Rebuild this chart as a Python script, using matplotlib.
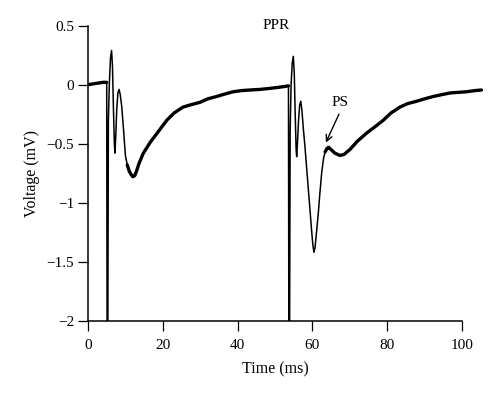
import numpy as np
import matplotlib
matplotlib.use("Agg")
import matplotlib.pyplot as plt

# ---- data ----
time_ms = [0, 2, 4, 5.0, 5.1, 5.3, 5.45, 5.7, 6.0, 6.3, 6.55, 6.8, 7.05, 7.2, 7.4, 7.7,
           8.0, 8.3, 8.6, 9.0, 9.5, 10.0, 10.5, 11.0, 11.5, 12.0, 12.5, 13.0, 13.5, 14.0,
           14.8, 16.6, 18.5, 21.1, 23.0, 25.4, 27.5, 29.9, 32, 34.4, 36.5, 38.8, 41, 43.3,
           46, 49, 51.5, 53.6,
           53.7, 53.9, 54.05, 54.3, 54.6, 54.9, 55.15, 55.4, 55.65, 55.8, 56.0, 56.3, 56.6,
           56.9, 57.2, 57.6, 58.0, 58.5, 58.9, 59.4, 59.8, 60.1, 60.4, 60.7, 61.1, 61.6,
           62.0, 62.5, 63.0, 63.4, 63.9, 64.3, 65.0, 66.0, 67.4, 68.5, 70.0, 72.0, 74.5,
           77.0, 79.0, 81.0, 83.4, 85.5, 87.9, 90.0, 92.3, 94.5, 96.8, 99.0, 101.2, 103.5, 105.2]
voltage_mv = [0.0, 0.01, 0.02, 0.02, -2.1, -2.1, -0.3, 0.0, 0.22, 0.29, 0.15, -0.2, -0.5, -0.58,
              -0.45, -0.2, -0.07, -0.04, -0.08, -0.18, -0.38, -0.60, -0.68, -0.73, -0.76, -0.78,
              -0.77, -0.73, -0.68, -0.64, -0.58, -0.49, -0.41, -0.30, -0.24, -0.19, -0.17, -0.15,
              -0.12, -0.10, -0.08, -0.06, -0.05, -0.045, -0.04, -0.03, -0.02, -0.01,
              -2.1, -2.1, -0.4, 0.0, 0.18, 0.24, 0.1, -0.25, -0.55, -0.61, -0.5, -0.3, -0.17,
              -0.14, -0.22, -0.38, -0.52, -0.72, -0.88, -1.08, -1.24, -1.35, -1.42, -1.38, -1.25,
              -1.08, -0.92, -0.74, -0.62, -0.57, -0.54, -0.53, -0.55, -0.58, -0.60, -0.59, -0.55,
              -0.48, -0.41, -0.35, -0.30, -0.24, -0.19, -0.16, -0.14, -0.12, -0.10, -0.085,
              -0.07, -0.065, -0.06, -0.05, -0.045]
noisy_ranges = [(0, 5.0), (10.5, 53.6), (63.4, 106)]
x_ticks = [0, 20, 40, 60, 80, 100]
y_ticks = [0.5, 0, -0.5, -1, -1.5, -2]

t = np.array(time_ms)
v = np.array(voltage_mv)

plt.rcParams['font.family'] = ['Liberation Serif', 'DejaVu Serif']
plt.rcParams['font.size'] = 11

fig = plt.figure(figsize=(5.0, 3.95), dpi=100)
ax = fig.add_axes([0.176, 0.188, 106 * 3.74 / 500, 0.747])

ax.plot(t, v, color='black', lw=1.1, solid_joinstyle='round')
mask = np.zeros_like(t, dtype=bool)
for a, b in noisy_ranges:
    mask |= (t >= a) & (t <= b)
v_noisy = np.where(mask, v, np.nan)
ax.plot(t, v_noisy, color='black', lw=2.4, solid_capstyle='round')

ax.set_xlim(0, 106)
ax.set_ylim(-2, 0.5)
ax.set_xticks(x_ticks)
ax.set_yticks(y_ticks)
ax.set_yticklabels(['0.5', '0', '\u22120.5', '\u22121', '\u22121.5', '\u22122'])

for s in ['top', 'right']:
    ax.spines[s].set_visible(False)
ax.spines['bottom'].set_bounds(0, 100)
ax.spines['left'].set_bounds(-2, 0.5)
for s in ['left', 'bottom']:
    ax.spines[s].set_linewidth(1.1)
ax.tick_params(direction='out', length=7, width=0.9, pad=3)
ax.tick_params(axis='x', pad=6)

ax.set_xlabel('Time (ms)', fontsize=11.5)
ax.xaxis.set_label_coords(0.472, -0.138)
ax.set_ylabel('Voltage (mV)', labelpad=5, fontsize=11.5)

ax.text(50.3, 0.5, 'PPR', ha='center', va='center')
ax.text(67.5, -0.147, 'PS', ha='center', va='center')
ax.annotate('', xy=(63.6, -0.49), xytext=(67.1, -0.25),
            arrowprops=dict(arrowstyle='->', lw=1.0, color='black', shrinkA=0, shrinkB=0))

fig.savefig('out.png', dpi=100)
